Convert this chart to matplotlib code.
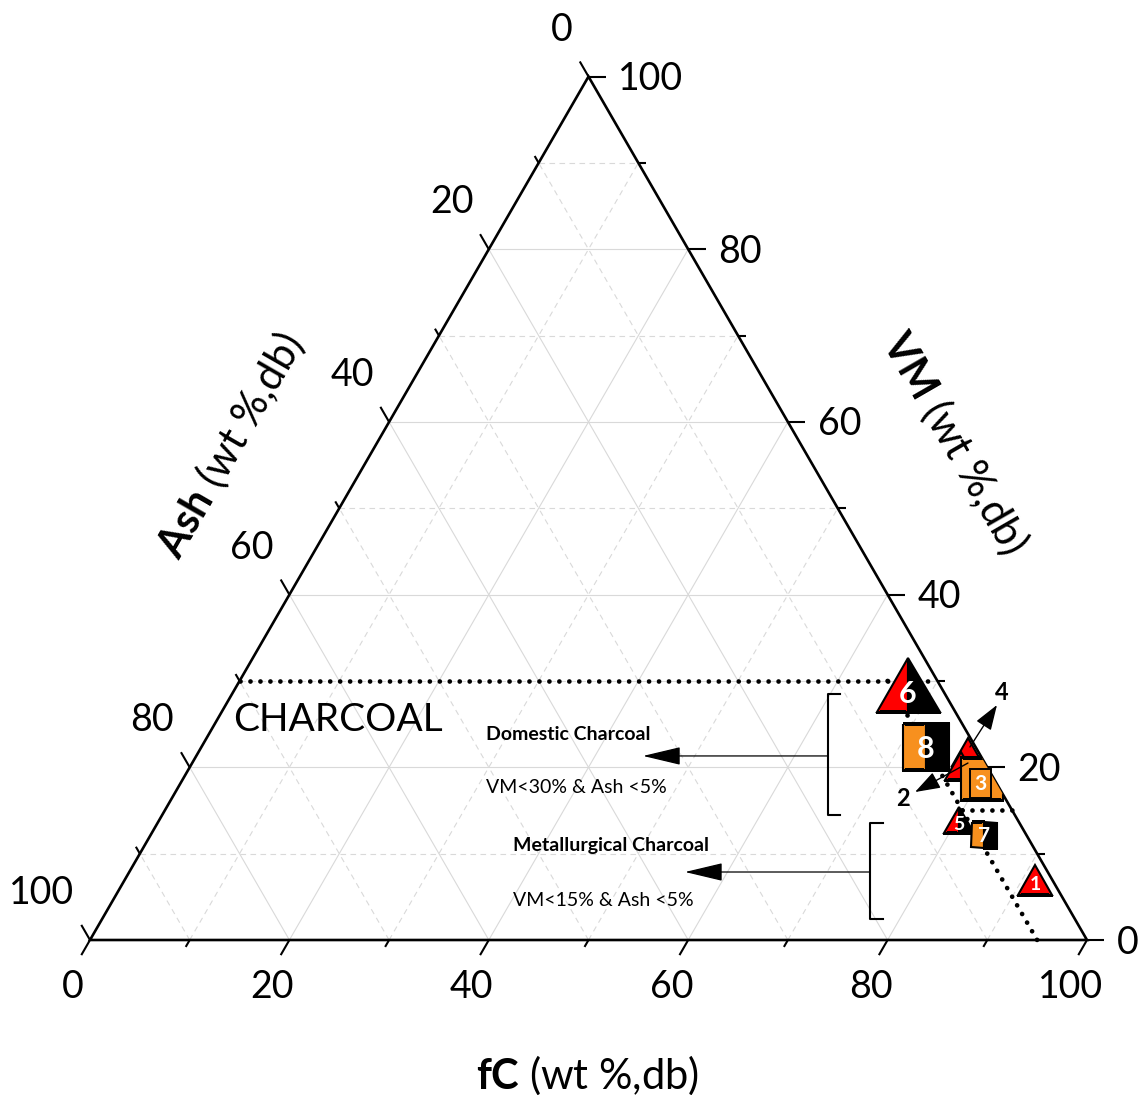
import numpy as np
import matplotlib
matplotlib.use("Agg")
import matplotlib.pyplot as plt
from matplotlib.markers import MarkerStyle
from matplotlib.transforms import Affine2D
from matplotlib.patches import Polygon

plt.rcParams['font.family'] = ['Lato', 'DejaVu Sans']
plt.rcParams['mathtext.fontset'] = 'custom'
plt.rcParams['mathtext.rm'] = 'Lato'
plt.rcParams['mathtext.bf'] = 'Lato:bold'

# ---------------- data (wt %, db) ----------------
sample_labels = ['1', '2', '3', '4', '5', '6', '7', '8']
fc_values = [91.3, 77.3, 80.1, 77.2, 80.2, 67.3, 83.6, 72.7]
vm_values = [7.0, 20.2, 18.7, 21.8, 13.9, 29.5, 12.2, 22.3]
ash_values = [1.7, 2.5, 1.2, 1.0, 5.9, 3.2, 4.2, 5.0]

major_ticks = [0, 20, 40, 60, 80, 100]
minor_ticks = [10, 30, 50, 70, 90]
tick_labels = ['0', '20', '40', '60', '80', '100']

domestic_vm_max = 30
metallurgical_vm_max = 15
charcoal_ash_max = 5

# ---------------- styles ----------------
RED = '#ff0000'
ORANGE = '#f7901e'
marker_shapes = ['^', '^', 's', '^', '^', '^', 's', 's']
face_main = [RED, RED, ORANGE, RED, RED, RED, ORANGE, ORANGE]
face_alt = [None, None, None, None, 'black', 'black', 'black', 'black']
marker_px = [34, 32, 43, 32, 30, 63, 25, 46]
label_pt = [14, 0, 0, 0, 14, 22, 15, 22]
draw_order = [3, 1, 2, 4, 6, 5, 7, 0]

SQ3 = np.sqrt(3) / 2
K = 9.97  # pixels per data unit
PX = 72.0 / 100.0  # points per pixel


def tern(f, v, a):
    f = np.asarray(f, float); v = np.asarray(v, float); a = np.asarray(a, float)
    s = f + v + a
    return 100 * (f + v / 2) / s, 100 * SQ3 * v / s


fig = plt.figure(figsize=(11.39, 10.95), dpi=100)
ax = fig.add_axes([0, 0, 1, 1])
ax.set_xlim(-90 / K, (1139 - 90) / K)
ax.set_ylim((940 - 1095) / K, 940 / K)
ax.axis('off')

# ---------------- grid ----------------
for g in range(10, 100, 10):
    ls = '-' if g % 20 == 0 else (0, (5, 4))
    kw = dict(color='#d9d9d9', lw=0.8, ls=ls, zorder=1)
    # constant fC
    x, y = tern([g, g], [0, 100 - g], [100 - g, 0]); ax.plot(x, y, **kw)
    # constant VM
    x, y = tern([0, 100 - g], [g, g], [100 - g, 0]); ax.plot(x, y, **kw)
    # constant Ash
    x, y = tern([100 - g, 0], [0, 100 - g], [g, g]); ax.plot(x, y, **kw)

# ---------------- frame ----------------
vx, vy = tern([0, 100, 0], [0, 0, 100], [100, 0, 0])
verts = np.column_stack([vx, vy])
ax.add_patch(Polygon(verts, closed=True, fill=False, ec='black', lw=1.9,
                     joinstyle='miter', zorder=5))
clip_tri = Polygon(verts, closed=True, transform=ax.transData)

# ---------------- ticks ----------------
dirs = {'fc': (-0.5, -SQ3), 'ash': (-0.5, SQ3), 'vm': (1.0, 0.0)}
maj_len, min_len = 1.75, 0.8
digit_off = 27 * 1.389 / K * 0.36

for vals, L in ((major_ticks, maj_len), (minor_ticks, min_len)):
    for t in vals:
        # fC ticks along the bottom
        bx, by = tern(t, 0, 100 - t)
        dx, dy = dirs['fc']
        ax.plot([bx, bx + L * dx], [by, by + L * dy], color='black', lw=1.5,
                solid_capstyle='butt', zorder=5)
        # Ash ticks along the left
        bx, by = tern(0, t, 100 - t)
        dx, dy = dirs['ash']
        ax.plot([bx, bx + L * dx], [by, by + L * dy], color='black', lw=1.5,
                solid_capstyle='butt', zorder=5)
        # VM ticks along the right
        bx, by = tern(100 - t, t, 0)
        dx, dy = dirs['vm']
        ax.plot([bx, bx + L * dx], [by, by + L * dy], color='black', lw=1.5,
                solid_capstyle='butt', zorder=5)

for t, lab in zip(major_ticks, tick_labels):
    bx, by = tern(t, 0, 100 - t)
    ax.text(bx - 1.7, by - 4.5 - digit_off, lab, ha='center', va='baseline', fontsize=27)
    bx, by = tern(0, 100 - t, t)
    ax.text(bx - 1.55, by + 4.96 - digit_off, lab, ha='right', va='baseline', fontsize=27)
    bx, by = tern(100 - t, t, 0)
    ax.text(bx + 3.0, by - digit_off, lab, ha='left', va='baseline', fontsize=27)

# axis titles
ax.text(49.95, -13.54, r'$\mathbf{fC}$ (wt %,db)', ha='center', va='center', fontsize=30)
ax.text(14.04, 49.65, r'$\mathbf{Ash}$ (wt %,db)', ha='center', va='center',
        fontsize=30, rotation=60, rotation_mode='anchor')
ax.text(86.76, 49.85, r'$\mathbf{VM}$ (wt %,db)', ha='center', va='center',
        fontsize=30, rotation=-60, rotation_mode='anchor')

# ---------------- class limits (dotted) ----------------
dot_kw = dict(color='black', lw=3.4, ls=(0, (0.01, 2.1)), dash_capstyle='round', zorder=3)
x, y = tern([0, 100 - domestic_vm_max], [domestic_vm_max] * 2,
            [100 - domestic_vm_max, 0]); ax.plot(x, y, **dot_kw)
x, y = tern([100 - domestic_vm_max - charcoal_ash_max, 100 - charcoal_ash_max],
            [domestic_vm_max, 0], [charcoal_ash_max] * 2); ax.plot(x, y, **dot_kw)
x, y = tern([100 - metallurgical_vm_max - charcoal_ash_max, 100 - metallurgical_vm_max],
            [metallurgical_vm_max] * 2, [charcoal_ash_max, 0]); ax.plot(x, y, **dot_kw)

ax.text(24.87, 22.07, 'CHARCOAL', ha='center', va='center', fontsize=28)

# brackets + arrows
def bracket(xb, y0, y1, xt, ya, xtip):
    ax.plot([xt, xb, xb, xt], [y0, y0, y1, y1], color='black', lw=1.5, zorder=4)
    ax.annotate('', xy=(xtip, ya), xytext=(xb, ya),
                arrowprops=dict(arrowstyle='-|>,head_length=1.6,head_width=0.38',
                                mutation_scale=15, lw=0.9, color='black',
                                shrinkA=0, shrinkB=0), zorder=4)

bracket(74.02, 24.67, 12.54, 75.2, 18.46, 55.47)
bracket(78.23, 11.74, 2.11, 79.54, 6.82, 59.68)
ax.text(39.72, 20.66, 'Domestic Charcoal', ha='left', va='center', fontsize=14, fontweight='bold')
ax.text(39.72, 15.25, 'VM<30% & Ash <5%', ha='left', va='center', fontsize=14)
ax.text(42.43, 9.43, 'Metallurgical Charcoal', ha='left', va='center', fontsize=14, fontweight='bold')
ax.text(42.43, 4.01, 'VM<15% & Ash <5%', ha='left', va='center', fontsize=14)

# ---------------- samples ----------------
xs, ys = tern(fc_values, vm_values, ash_values)
z = 10
for i in draw_order:
    shp = marker_shapes[i]
    fs = 'left' if face_alt[i] else 'full'
    if shp == '^':
        m = MarkerStyle('^', fillstyle=fs, transform=Affine2D().scale(1.0, SQ3))
    else:
        m = MarkerStyle('s', fillstyle=fs)
    kw = dict(markerfacecolor=face_main[i], markeredgecolor='black', markeredgewidth=1.5)
    if face_alt[i]:
        kw['markerfacecoloralt'] = face_alt[i]
    ln, = ax.plot([xs[i]], [ys[i]], ls='none', marker=m, markersize=marker_px[i] * PX,
                  zorder=z, **kw)
    ln.set_clip_path(clip_tri)
    z += 1
    if label_pt[i]:
        yoff = -0.1 * marker_px[i] / K if shp == '^' else 0
        ax.text(xs[i], ys[i] + yoff - label_pt[i] * 1.389 / K * 0.36, sample_labels[i],
                ha='center', va='baseline', color='white', fontsize=label_pt[i],
                fontweight='bold', zorder=z)
        z += 1
    if i == 2:
        ax.annotate(sample_labels[i], xy=(xs[i], ys[i]), xytext=(-1, -3.6),
                    textcoords='offset points', ha='center', va='center', color='white',
                    fontsize=15, fontweight='bold', zorder=z,
                    bbox=dict(boxstyle='square,pad=0.2', fc=ORANGE, ec='black', lw=1.4))
        z += 1

# callouts for samples 2 and 4
arrow_kw = dict(arrowstyle='-|>,head_length=1.3,head_width=0.45', mutation_scale=12,
                lw=1.0, color='black', shrinkA=0, shrinkB=0)
ax.annotate('', xy=(90.97, 23.57), xytext=(88.26, 19.36), arrowprops=arrow_kw, zorder=30)
ax.text(91.47, 24.87, sample_labels[3], ha='center', va='center', fontsize=17,
        fontweight='bold', zorder=30)
ax.annotate('', xy=(82.75, 14.84), xytext=(88.06, 17.75), arrowprops=arrow_kw, zorder=30)
ax.text(81.54, 14.24, sample_labels[1], ha='center', va='center', fontsize=17,
        fontweight='bold', zorder=30)

fig.savefig('out.png', dpi=100)
